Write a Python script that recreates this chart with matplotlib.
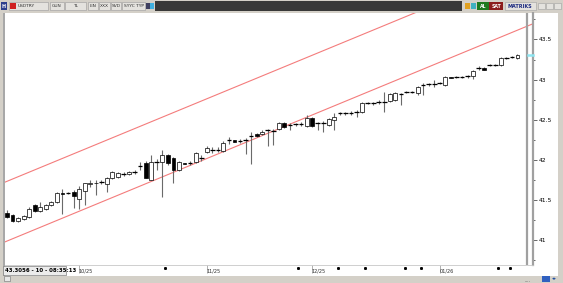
import matplotlib
matplotlib.use("Agg")
import matplotlib.pyplot as plt
from matplotlib.patches import Rectangle
from matplotlib.ticker import MultipleLocator

W, H = 563, 283

# daily USDTRY candles
opens = [41.337, 41.312, 41.237, 41.262, 41.287, 41.436, 41.362, 41.387, 41.436, 41.474,
         41.586, 41.586, 41.599, 41.511, 41.611, 41.698, 41.711, 41.723, 41.698, 41.773,
         41.786, 41.823, 41.823, 41.848, 41.923, 41.960, 41.748, 41.973, 41.973, 42.060,
         42.022, 41.873, 41.960, 41.960, 41.973, 42.022, 42.097, 42.122, 42.122, 42.110,
         42.247, 42.247, 42.234, 42.247, 42.297, 42.322, 42.322, 42.372, 42.359, 42.384,
         42.459, 42.434, 42.446, 42.446, 42.421, 42.521, 42.459, 42.459, 42.434, 42.496,
         42.584, 42.584, 42.584, 42.596, 42.596, 42.708, 42.708, 42.721, 42.721, 42.733,
         42.746, 42.820, 42.845, 42.845, 42.833, 42.933, 42.945, 42.945, 42.958, 42.933,
         43.032, 43.032, 43.032, 43.045, 43.045, 43.145, 43.145, 43.182, 43.182, 43.182,
         43.269, 43.282, 43.269]
highs = [41.374, 41.324, 41.287, 41.312, 41.411, 41.449, 41.474, 41.449, 41.486, 41.599,
         41.636, 41.599, 41.623, 41.673, 41.711, 41.748, 41.748, 41.748, 41.786, 41.860,
         41.848, 41.848, 41.860, 41.873, 41.973, 41.985, 42.060, 42.010, 42.122, 42.072,
         42.035, 41.985, 41.960, 41.985, 42.097, 42.060, 42.172, 42.160, 42.160, 42.234,
         42.284, 42.247, 42.259, 42.272, 42.347, 42.334, 42.372, 42.384, 42.384, 42.471,
         42.471, 42.459, 42.459, 42.471, 42.559, 42.534, 42.471, 42.484, 42.521, 42.584,
         42.596, 42.596, 42.608, 42.621, 42.721, 42.721, 42.721, 42.746, 42.845, 42.833,
         42.845, 42.833, 42.858, 42.858, 42.920, 42.958, 42.958, 42.995, 42.970, 43.045,
         43.032, 43.045, 43.045, 43.057, 43.120, 43.170, 43.157, 43.195, 43.195, 43.282,
         43.282, 43.294, 43.319]
lows = [41.274, 41.224, 41.224, 41.249, 41.274, 41.349, 41.349, 41.374, 41.424, 41.461,
        41.324, 41.574, 41.399, 41.387, 41.436, 41.661, 41.561, 41.698, 41.599, 41.761,
        41.773, 41.798, 41.810, 41.823, 41.873, 41.773, 41.748, 41.873, 41.536, 41.935,
        41.711, 41.860, 41.948, 41.935, 41.960, 41.985, 42.085, 42.085, 42.097, 42.097,
        42.197, 42.222, 42.209, 42.072, 41.948, 42.284, 42.309, 42.172, 42.185, 42.372,
        42.397, 42.372, 42.421, 42.421, 42.409, 42.409, 42.372, 42.347, 42.421, 42.372,
        42.559, 42.559, 42.559, 42.534, 42.584, 42.696, 42.683, 42.696, 42.596, 42.721,
        42.733, 42.683, 42.833, 42.833, 42.808, 42.808, 42.920, 42.908, 42.945, 42.920,
        43.020, 43.020, 43.020, 43.020, 43.007, 43.120, 43.120, 43.170, 43.170, 43.170,
        43.257, 43.269, 43.257]
closes = [41.287, 41.237, 41.274, 41.299, 41.387, 41.362, 41.411, 41.436, 41.474, 41.586,
          41.574, 41.586, 41.549, 41.636, 41.711, 41.711, 41.705, 41.723, 41.773, 41.848,
          41.835, 41.823, 41.848, 41.848, 41.923, 41.773, 41.973, 41.973, 42.060, 41.960,
          41.873, 41.973, 41.948, 41.960, 42.085, 42.022, 42.147, 42.122, 42.122, 42.209,
          42.247, 42.222, 42.234, 42.247, 42.297, 42.297, 42.347, 42.372, 42.359, 42.459,
          42.409, 42.434, 42.446, 42.446, 42.521, 42.421, 42.459, 42.459, 42.509, 42.534,
          42.584, 42.584, 42.584, 42.596, 42.708, 42.708, 42.708, 42.721, 42.721, 42.820,
          42.833, 42.820, 42.845, 42.845, 42.908, 42.933, 42.945, 42.945, 42.958, 43.032,
          43.020, 43.032, 43.032, 43.045, 43.107, 43.145, 43.120, 43.182, 43.182, 43.269,
          43.269, 43.282, 43.3056]

month_idx = [13, 36, 55, 78]
month_labels = ["10/25", "11/25", "12/25", "01/26"]
dot_idx = [28.5, 52.4, 59.6, 64.5, 71.7, 74.6, 88.5, 90.6]

price_ticks = [41.0, 41.5, 42.0, 42.5, 43.0, 43.5]
price_labels = ["41", "41.5", "42", "42.5", "43", "43.5"]

# regression channel
channel_x = [-0.4, 94.8]
channel_upper = [41.72, 44.44]
channel_lower = [40.975, 43.696]

status_text = "43.3056 - 10 - 08:35:13"

fig = plt.figure(figsize=(W / 100, H / 100), dpi=100)
fig.patch.set_facecolor("#d4d0c8")


def frect(x, y, w, h, **kw):
    fig.add_artist(Rectangle((x / W, 1 - (y + h) / H), w / W, h / H,
                             transform=fig.transFigure, **kw))


def ftext(x, y, s, **kw):
    fig.text(x / W, 1 - y / H, s, **kw)


# white chart panel
frect(5, 13, 553, 263, facecolor="white", edgecolor="none", zorder=-1)
frect(3, 13, 2, 263, facecolor="#a8a8a8", edgecolor="none", zorder=-1)

ax = fig.add_axes([5 / W, 1 - 265 / H, 528 / W, 252 / H])
ax.set_facecolor("white")
ax.set_xlim(-0.36, 94.8)
ax.set_ylim(40.688, 43.830)

x = list(range(len(closes)))
ax.vlines(x, lows, highs, color="#6a6a6a", lw=0.8, zorder=2)
for i in x:
    o, c = opens[i], closes[i]
    if abs(c - o) < 0.004:
        ax.hlines(c, i - 0.42, i + 0.42, color="black", lw=0.9, zorder=3)
    else:
        col = "white" if c > o else "black"
        ax.bar(i, abs(c - o), bottom=min(o, c), width=0.7, color=col,
               edgecolor="black", linewidth=0.5, zorder=3)

ax.plot(channel_x, channel_upper, color="#f47c7c", lw=0.8, zorder=1)
ax.plot(channel_x, channel_lower, color="#f47c7c", lw=0.8, zorder=1)

# separator after last bar and last price marker
gap_x = len(closes) + 0.7
ax.axvline(gap_x, color="#a0a0a0", lw=1.6, zorder=4)
ax.plot([gap_x + 0.2, 94.8], [closes[-1]] * 2, color="#8ee6f2", lw=1.8,
        zorder=4, clip_on=False)

for s in ["top", "left"]:
    ax.spines[s].set_visible(False)
ax.spines["right"].set_color("#a0a0a0")
ax.spines["right"].set_linewidth(1.6)
ax.spines["bottom"].set_color("#c8c8c8")
ax.spines["bottom"].set_linewidth(0.6)

ax.yaxis.tick_right()
ax.set_yticks(price_ticks)
ax.set_yticklabels(price_labels)
ax.yaxis.set_minor_locator(MultipleLocator(0.25))
ax.tick_params(axis="y", which="major", direction="out", length=3, width=0.6,
               color="#505050", labelsize=4.3, pad=1)
ax.tick_params(axis="y", which="minor", direction="out", length=1.5, width=0.6,
               color="#505050")

ax.set_xticks(month_idx)
ax.set_xticklabels([])
ax.tick_params(axis="x", direction="out", length=6, width=0.5, color="#909090")
for mi, lab in zip(month_idx, month_labels):
    ax.text(mi - 0.1, -0.012, lab, transform=ax.get_xaxis_transform(),
            ha="left", va="top", fontsize=3.6, color="#303030")
ax.plot(dot_idx, [-0.012] * len(dot_idx), "s", ms=1.1, color="black",
        transform=ax.get_xaxis_transform(), clip_on=False)

# bottom status box
frect(3, 266, 63, 9, facecolor="#ececec", edgecolor="#808080", lw=0.5)
ftext(5, 270.5, status_text, fontsize=3.9, weight="bold", va="center",
      color="black")
frect(4, 276, 6, 5, facecolor="#e8e8e8", edgecolor="#707070", lw=0.4)
ftext(524, 280, "....", fontsize=3.5, color="#606060", va="center")
frect(542, 276, 8, 6, facecolor="#3060c0", edgecolor="none")
ftext(552, 279, "◂▸", fontsize=3.5, color="#2050a0", va="center")

# top toolbar
frect(0, 0, W, 12, facecolor="#d4d0c8", edgecolor="none")
frect(1, 2, 6, 8, facecolor="#2c3e8c", edgecolor="none")
ftext(2, 6, "H", fontsize=3.5, color="white", va="center", weight="bold")
boxes = [(9, 39, "USDTRY"), (50, 14, "GUN"), (65, 21, "TL"), (88, 10, "LIN"),
         (99, 11, "XXX"), (111, 10, "SVD"), (122, 23, "SYYC TYP")]
for bx, bw, lab in boxes:
    frect(bx, 2, bw, 8, facecolor="#e4e2de", edgecolor="#9a9a9a", lw=0.4)
    tx = bx + 9 if lab == "USDTRY" else bx + bw / 2
    ftext(tx, 6, lab, fontsize=3.2, color="#303030", va="center",
          ha="left" if lab == "USDTRY" else "center")
frect(10, 3, 6, 6, facecolor="#d02020", edgecolor="none")
frect(146, 3, 4, 6, facecolor="#404060", edgecolor="none")
frect(150, 3, 4, 6, facecolor="#40b0e0", edgecolor="none")
frect(155, 1, 307, 10, facecolor="#383838", edgecolor="none")
frect(465, 3, 5, 6, facecolor="#e0a020", edgecolor="none")
frect(471, 3, 5, 6, facecolor="#40b0c0", edgecolor="none")
frect(477, 2, 12, 8, facecolor="#1e7a1e", edgecolor="none")
ftext(483, 6, "AL", fontsize=3.3, color="white", ha="center", va="center",
      weight="bold")
frect(489, 2, 14, 8, facecolor="#8c1c1c", edgecolor="none")
ftext(496, 6, "SAT", fontsize=3.3, color="white", ha="center", va="center",
      weight="bold")
frect(505, 2, 31, 8, facecolor="#e4e2de", edgecolor="#a0a0a0", lw=0.4)
ftext(520, 6, "MATRIKS", fontsize=3.5, color="#1c2a80", ha="center",
      va="center", weight="bold")
for bx in [538, 546, 554]:
    frect(bx, 3, 7, 6, facecolor="#e4e2de", edgecolor="#a0a0a0", lw=0.4)

fig.savefig("out.png", dpi=100, facecolor=fig.get_facecolor())
